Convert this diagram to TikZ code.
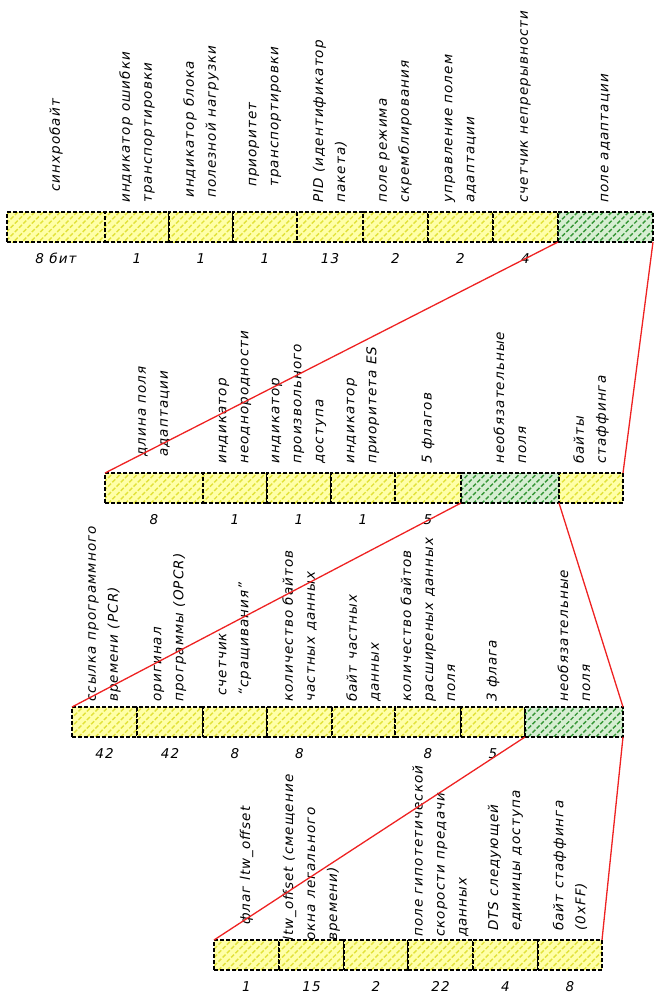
\documentclass[tikz,border=0pt]{standalone}
\usepackage{fontspec}
\setmainfont{DejaVu Sans}[LetterSpace=8]
\usetikzlibrary{positioning,calc,patterns.meta}
\definecolor{fieldfill}{HTML}{FFFFA8}
\definecolor{fieldhatch}{HTML}{E2E23A}
\definecolor{optfill}{HTML}{D6EED2}
\definecolor{opthatch}{HTML}{369636}
\definecolor{linkred}{HTML}{EE2222}
\tikzset{
  field/.style={
    draw=black, dash pattern=on 4pt off 2pt, line width=1.3pt,
    preaction={fill=fieldfill},
    pattern={Lines[angle=45,distance=6pt,line width=1.4pt]}, pattern color=fieldhatch,
    minimum height=30pt, inner sep=0pt, outer sep=0pt
  },
  optfield/.style={
    field, preaction={fill=optfill}, pattern color=opthatch
  },
  lbl/.style={
    rotate=90, anchor=west, align=left, inner sep=0pt,
    font=\fontsize{13.5}{22}\itshape
  },
  bits/.style={font=\fontsize{13.5}{15}\itshape, inner sep=0pt},
  link/.style={draw=linkred, line width=1.3pt}
}

\begin{document}
\begin{tikzpicture}[x=1pt, y=-1pt]
  \useasboundingbox (0,0) rectangle (657,1002);

  % transport packet header
  \node[field, minimum width=98pt, anchor=north west] (a1) at (7,212) {};
  \node[field, minimum width=64pt, right=0pt of a1] (a2) {};
  \node[field, minimum width=64pt, right=0pt of a2] (a3) {};
  \node[field, minimum width=64pt, right=0pt of a3] (a4) {};
  \node[field, minimum width=66pt, right=0pt of a4] (a5) {};
  \node[field, minimum width=65pt, right=0pt of a5] (a6) {};
  \node[field, minimum width=65pt, right=0pt of a6] (a7) {};
  \node[field, minimum width=65pt, right=0pt of a7] (a8) {};
  \node[optfield, minimum width=95pt, right=0pt of a8] (a9) {};

  \node[lbl, xshift=9pt] (ta1) at ($(a1.north)+(0,-11)$) {синхробайт};
  \node[lbl] (ta2) at ($(a2.north)+(0,-9)$) {индикатор ошибки\\транспортировки};
  \node[lbl, xshift=5pt] (ta3) at ($(a3.north)+(0,-9)$) {индикатор блока\\полезной нагрузки};
  \node[lbl, xshift=16pt] (ta4) at ($(a4.north)+(0,-9)$) {приоритет\\транспортировки};
  \node[lbl] (ta5) at ($(a5.north)+(0,-9)$) {PID (идентификатор\\пакета)};
  \node[lbl] (ta6) at ($(a6.north)+(0,-9)$) {поле режима\\скремблирования};
  \node[lbl] (ta7) at ($(a7.north)+(0,-9)$) {управление полем\\адаптации};
  \node[lbl] (ta8) at ($(a8.north)+(0,-9)$) {счетчик непрерывности};
  \node[lbl] (ta9) at ($(a9.north)+(0,-9)$) {поле адаптации};

  \node[bits, below=11pt of a1] (na1) {8 бит};
  \node[bits, below=11pt of a2] (na2) {1};
  \node[bits, below=11pt of a3] (na3) {1};
  \node[bits, below=11pt of a4] (na4) {1};
  \node[bits, below=11pt of a5] (na5) {13};
  \node[bits, below=11pt of a6] (na6) {2};
  \node[bits, below=11pt of a7] (na7) {2};
  \node[bits, below=11pt of a8] (na8) {4};

  % adaptation field
  \node[field, minimum width=98pt, anchor=north west] (b1) at (105,473) {};
  \node[field, minimum width=64pt, right=0pt of b1] (b2) {};
  \node[field, minimum width=64pt, right=0pt of b2] (b3) {};
  \node[field, minimum width=64pt, right=0pt of b3] (b4) {};
  \node[field, minimum width=66pt, right=0pt of b4] (b5) {};
  \node[optfield, minimum width=98pt, right=0pt of b5] (b6) {};
  \node[field, minimum width=64pt, right=0pt of b6] (b7) {};

  \node[lbl, xshift=7pt] (tb1) at ($(b1.north)+(0,-9)$) {длина поля\\адаптации};
  \node[lbl] (tb2) at ($(b2.north)+(0,-9)$) {индикатор\\неоднородности};
  \node[lbl] (tb3) at ($(b3.north)+(0,-9)$) {индикатор\\произвольного\\доступа};
  \node[lbl] (tb4) at ($(b4.north)+(0,-9)$) {индикатор\\приоритета ES};
  \node[lbl] (tb5) at ($(b5.north)+(0,-9)$) {5 флагов};
  \node[lbl] (tb6) at ($(b6.north)+(0,-9)$) {необязательные\\поля};
  \node[lbl] (tb7) at ($(b7.north)+(0,-9)$) {байты\\стаффинга};

  \node[bits, below=11pt of b1] (nb1) {8};
  \node[bits, below=11pt of b2] (nb2) {1};
  \node[bits, below=11pt of b3] (nb3) {1};
  \node[bits, below=11pt of b4] (nb4) {1};
  \node[bits, below=11pt of b5] (nb5) {5};

  % optional fields
  \node[field, minimum width=65pt, anchor=north west] (c1) at (72,707) {};
  \node[field, minimum width=66pt, right=0pt of c1] (c2) {};
  \node[field, minimum width=64pt, right=0pt of c2] (c3) {};
  \node[field, minimum width=65pt, right=0pt of c3] (c4) {};
  \node[field, minimum width=63pt, right=0pt of c4] (c5) {};
  \node[field, minimum width=66pt, right=0pt of c5] (c6) {};
  \node[field, minimum width=64pt, right=0pt of c6] (c7) {};
  \node[optfield, minimum width=98pt, right=0pt of c7] (c8) {};

  \node[lbl] (tc1) at ($(c1.north)+(0,-5)$) {ссылка программного\\времени (PCR)};
  \node[lbl] (tc2) at ($(c2.north)+(0,-5)$) {оригинал\\программы (OPCR)};
  \node[lbl, xshift=6pt] (tc3) at ($(c3.north)+(0,-5)$) {счетчик\\“сращивания”};
  \node[lbl] (tc4) at ($(c4.north)+(0,-5)$) {количество байтов\\частных данных};
  \node[lbl] (tc5) at ($(c5.north)+(0,-5)$) {байт частных\\данных};
  \node[lbl] (tc6) at ($(c6.north)+(0,-5)$) {количество байтов\\расширеных данных\\поля};
  \node[lbl] (tc7) at ($(c7.north)+(0,-5)$) {3 флага};
  \node[lbl] (tc8) at ($(c8.north)+(0,-5)$) {необязательные\\поля};

  \node[bits, below=11pt of c1] (nc1) {42};
  \node[bits, below=11pt of c2] (nc2) {42};
  \node[bits, below=11pt of c3] (nc3) {8};
  \node[bits, below=11pt of c4] (nc4) {8};
  \node[bits, below=11pt of c6] (nc6) {8};
  \node[bits, below=11pt of c7] (nc7) {5};

  % further optional fields
  \node[field, minimum width=65pt, anchor=north west] (d1) at (214,940) {};
  \node[field, minimum width=65pt, right=0pt of d1] (d2) {};
  \node[field, minimum width=64pt, right=0pt of d2] (d3) {};
  \node[field, minimum width=65pt, right=0pt of d3] (d4) {};
  \node[field, minimum width=65pt, right=0pt of d4] (d5) {};
  \node[field, minimum width=64pt, right=0pt of d5] (d6) {};

  \node[lbl, xshift=6pt] (td1) at ($(d1.north)+(0,-9)$) {флаг ltw\_offset};
  \node[lbl, xshift=-10pt] (td2) at ($(d2.north)+(0,-9)$) {ltw\_offset (смещение\\окна легального\\времени)};
  \node[lbl, xshift=-6pt] (td4) at ($(d4.north)+(0,-9)$) {поле гипотетической\\скорости предачи\\данных};
  \node[lbl] (td5) at ($(d5.north)+(0,-9)$) {DTS следующей\\единицы доступа};
  \node[lbl] (td6) at ($(d6.north)+(0,-9)$) {байт стаффинга\\(0xFF)};

  \node[bits, below=11pt of d1] (nd1) {1};
  \node[bits, below=11pt of d2] (nd2) {15};
  \node[bits, below=11pt of d3] (nd3) {2};
  \node[bits, below=11pt of d4] (nd4) {22};
  \node[bits, below=11pt of d5] (nd5) {4};
  \node[bits, below=11pt of d6] (nd6) {8};

  % expansion lines
  \draw[link] (a9.south west) -- (b1.north west);
  \draw[link] (a9.south east) -- (b7.north east);
  \draw[link] (b6.south west) -- (c1.north west);
  \draw[link] (b6.south east) -- (c8.north east);
  \draw[link] (c8.south west) -- (d1.north west);
  \draw[link] (c8.south east) -- (d6.north east);
\end{tikzpicture}
\end{document}
